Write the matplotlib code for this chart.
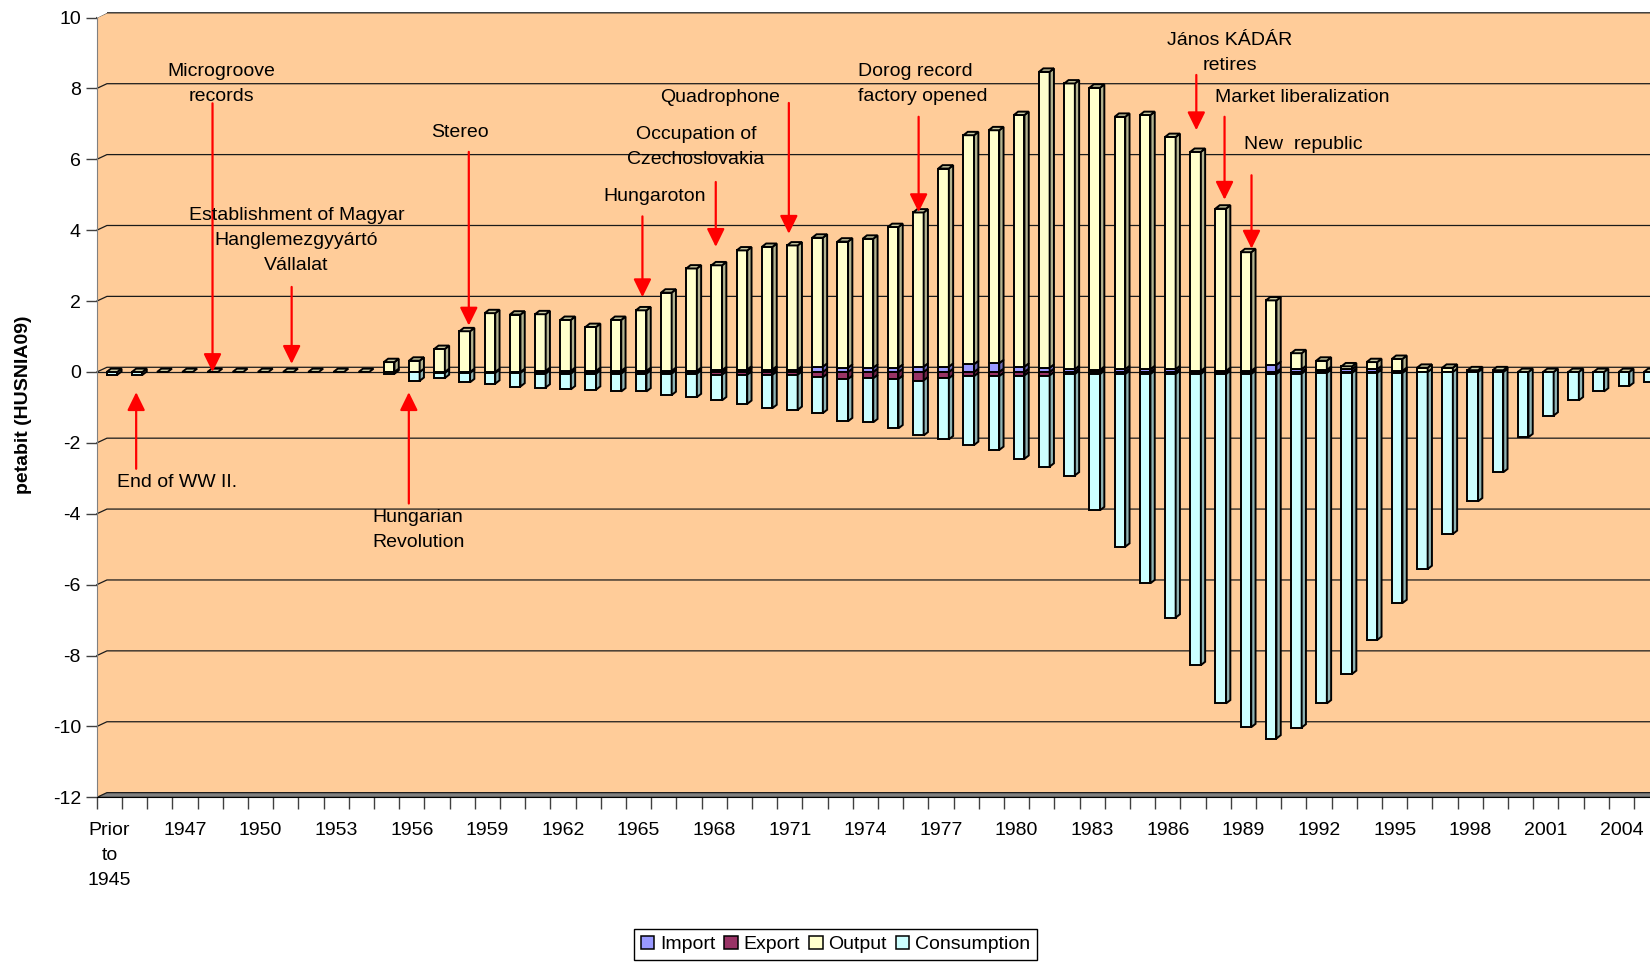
import numpy as np
import matplotlib.pyplot as plt
from matplotlib.colors import to_rgb
from matplotlib.patches import Polygon, Patch

plt.rcParams['font.family'] = ['Liberation Sans', 'DejaVu Sans']
plt.rcParams['axes.unicode_minus'] = False
plt.rcParams['font.size'] = 14

years = ['Prior\nto\n1945'] + [str(y) for y in range(1945, 2006)]

# petabit (HUSNIA09)
imports = [0, 0, 0, 0, 0, 0, 0, 0, 0, 0, 0, 0, 0, 0, 0, 0, 0,
           0.03, 0.03, 0.03, 0.03, 0.03, 0.03, 0.03,
           0.05, 0.07, 0.07, 0.07, 0.15, 0.12, 0.12, 0.12, 0.15, 0.15,
           0.22, 0.25, 0.15, 0.12, 0.08, 0.06, 0.08, 0.08, 0.08, 0.03,
           0.03, 0.03, 0.20, 0.08, 0.06, 0.08, 0.08, 0.03,
           0, 0, 0, 0, 0, 0, 0, 0, 0, 0]
output = [0, 0, 0, 0, 0, 0, 0, 0, 0, 0, 0,
          0.28, 0.32, 0.65, 1.15, 1.66, 1.62, 1.60, 1.44, 1.24, 1.44,
          1.71, 2.21, 2.89, 2.96, 3.36, 3.46, 3.50, 3.64, 3.56, 3.64,
          3.97, 4.35, 5.59, 6.46, 6.57, 7.10, 8.35, 8.06, 7.96, 7.12,
          7.17, 6.55, 6.18, 4.58, 3.35, 1.82, 0.45, 0.26, 0.08, 0.20,
          0.34, 0.12, 0.12, 0.05, 0.05, 0, 0, 0, 0, 0, 0]
exports = [0, 0, 0, 0, 0, 0, 0, 0, 0, 0, 0, 0, 0,
           -0.03, -0.03, -0.03, -0.03,
           -0.05, -0.05, -0.05, -0.05, -0.05, -0.05, -0.05,
           -0.08, -0.08, -0.08, -0.08,
           -0.15, -0.20, -0.18, -0.20, -0.24, -0.18, -0.12, -0.12, -0.10,
           -0.10, -0.06, -0.06, -0.06, -0.06, -0.06, -0.06, -0.06, -0.06,
           -0.06, -0.05, -0.03, -0.03, -0.03, -0.03,
           0, 0, 0, 0, 0, 0, 0, 0, 0, 0]
consumption = [-0.08, -0.08, 0, 0, 0, 0, 0, 0, 0, 0, 0,
               -0.05, -0.25, -0.14, -0.26, -0.30, -0.38, -0.39, -0.44,
               -0.45, -0.50, -0.50, -0.60, -0.66, -0.72, -0.82, -0.94,
               -0.99, -1.01, -1.19, -1.24, -1.39, -1.55, -1.72, -1.94,
               -2.08, -2.35, -2.57, -2.86, -3.84, -4.87, -5.90, -6.87,
               -8.21, -9.29, -9.96, -10.28, -9.98, -9.32, -8.49, -7.53,
               -6.49, -5.56, -4.57, -3.65, -2.83, -1.84, -1.23, -0.80,
               -0.55, -0.40, -0.29]

events = ['Microgroove\nrecords',
          'Establishment of Magyar\nHanglemezgyyártó\nVállalat',
          'Stereo', 'End of WW II.', 'Hungarian\nRevolution', 'Hungaroton',
          'Occupation of\nCzechoslovakia', 'Quadrophone',
          'Dorog record\nfactory opened', 'János KÁDÁR\nretires',
          'Market liberalization', 'New  republic']
# text position, arrow tail, arrow tip (data coords)
ev_text = [(4.43, 8.12), (7.42, 3.71), (13.92, 6.76), (2.67, -3.11),
           (12.25, -4.46), (21.64, 4.96), (23.28, 6.34), (24.25, 7.73),
           (29.69, 8.12), (44.45, 9.0), (47.32, 7.73), (47.39, 6.43)]
ev_arrow = [(4.09, 7.58, 0.0), (7.23, 2.40, 0.23), (14.26, 6.21, 1.31),
            (1.06, -2.73, -0.57), (11.88, -3.71, -0.57), (21.15, 4.39, 2.11),
            (24.06, 5.36, 3.53), (26.96, 7.59, 3.90), (32.11, 7.20, 4.51),
            (43.13, 8.38, 6.82), (44.25, 7.20, 4.86), (45.32, 5.55, 3.48)]

colors = {'Import': '#9999FF', 'Export': '#993366',
          'Output': '#FFFFCC', 'Consumption': '#CCFFFF'}

fig = plt.figure(figsize=(16.5, 9.63), dpi=100)
ax = fig.add_axes([0.0587, 0.172, 0.9469, 0.8147])
ax.set_facecolor('#FFCC99')
ax.set_xlim(-0.5, 61.5)
ax.set_ylim(-12, 10.133)

# back wall gridlines and floor
BX, BY = 0.4, 0.133
yt = np.arange(-12, 11, 2)
for v in yt[1:]:
    ax.plot([-0.5, -0.5 + BX, 61.5], [v, v + BY, v + BY],
            color='#1a1a1a', lw=0.9, zorder=1, clip_on=False)
ax.add_patch(Polygon([(-0.5, 10), (-0.5, 10.2), (-0.5 + BX, 10.2),
                      (-0.5 + BX, 10 + BY)], closed=True, facecolor='white',
                     edgecolor='none', zorder=1.5, clip_on=False))
ax.add_patch(Polygon([(-0.5, -12), (-0.5 + BX, -12 + BY), (61.5, -12 + BY),
                      (61.5, -12)], closed=True, facecolor='#808080',
                     edgecolor='#1a1a1a', lw=0.9, zorder=1.2))
ax.axhline(0, color='#1a1a1a', lw=0.9, zorder=1)

x = np.arange(len(years))
W, SH = 0.42, 0.1
DX, DY = 0.17, 0.095
kw = dict(edgecolor='black', linewidth=1.4, zorder=3)
b_imp = ax.bar(x + SH, imports, W, color=colors['Import'], **kw)
b_out = ax.bar(x + SH, output, W, bottom=imports, color=colors['Output'], **kw)
b_exp = ax.bar(x + SH, exports, W, color=colors['Export'], **kw)
b_con = ax.bar(x + SH, consumption, W, bottom=exports,
               color=colors['Consumption'], **kw)


def shade(c, f):
    return tuple(np.array(to_rgb(c)) * f)


for cont, name in [(b_exp, 'Export'), (b_con, 'Consumption'),
                   (b_imp, 'Import'), (b_out, 'Output')]:
    for r in cont.patches:
        x0, w = r.get_x(), r.get_width()
        lo = min(r.get_y(), r.get_y() + r.get_height())
        hi = max(r.get_y(), r.get_y() + r.get_height())
        if hi - lo > 0:
            ax.add_patch(Polygon([(x0 + w, lo), (x0 + w + DX, lo + DY),
                                  (x0 + w + DX, hi + DY), (x0 + w, hi)],
                                 closed=True, facecolor=shade(colors[name], 0.7),
                                 **kw))
        if name == 'Output':
            ax.add_patch(Polygon([(x0, hi), (x0 + DX, hi + DY),
                                  (x0 + w + DX, hi + DY), (x0 + w, hi)],
                                 closed=True, facecolor=shade(colors[name], 0.8),
                                 **kw))

# events
for label, (tx, ty), (ax_x, y0, y1) in zip(events, ev_text, ev_arrow):
    ha = 'left' if label.startswith('Dorog') else 'center'
    ax.text(tx, ty, label, ha=ha, va='center', multialignment=ha,
            fontsize=14, linespacing=1.62, zorder=6)
    ax.annotate('', xy=(ax_x, y1), xytext=(ax_x, y0),
                arrowprops=dict(arrowstyle='-|>,head_length=0.55,head_width=0.27',
                                color='#FF0000', lw=1.6, shrinkA=0, shrinkB=0,
                                mutation_scale=20), zorder=6)

# axes
for s in ['top', 'right']:
    ax.spines[s].set_visible(False)
ax.spines['left'].set_color('#808080')
ax.spines['left'].set_bounds(-12, 10)
ax.spines['bottom'].set_color('black')
ax.set_yticks(yt)
ax.set_yticklabels([str(v) for v in yt])
ax.tick_params(axis='y', direction='out', length=8, width=1, color='#404040',
               pad=3.5, labelsize=14)
ax.set_xticks(np.arange(-0.5, 62, 1))
ax.set_xticklabels([])
ax.tick_params(axis='x', which='major', direction='out', length=8.6, width=1,
               color='#404040')
ax.set_xticks(x[::3], minor=True)
ax.set_xticklabels(years[::3], minor=True, linespacing=1.62)
ax.tick_params(axis='x', which='minor', length=0, pad=17.5, labelsize=14)

fig.text(24 / 1650, 1 - 405 / 963, 'petabit (HUSNIA09)', rotation=90,
         fontsize=14, fontweight='bold', ha='center', va='center')

handles = [Patch(facecolor=c, edgecolor='black', lw=1.1) for c in colors.values()]
fig.legend(handles, list(colors.keys()), loc='upper left',
           bbox_to_anchor=(634 / 1650, 1 - 929 / 963), ncol=4, fontsize=14,
           frameon=True, fancybox=False, edgecolor='black', framealpha=1,
           handlelength=0.7, handleheight=0.7, handletextpad=0.3,
           columnspacing=0.45, borderpad=0.35, borderaxespad=0)

fig.savefig('out.png', dpi=100)
